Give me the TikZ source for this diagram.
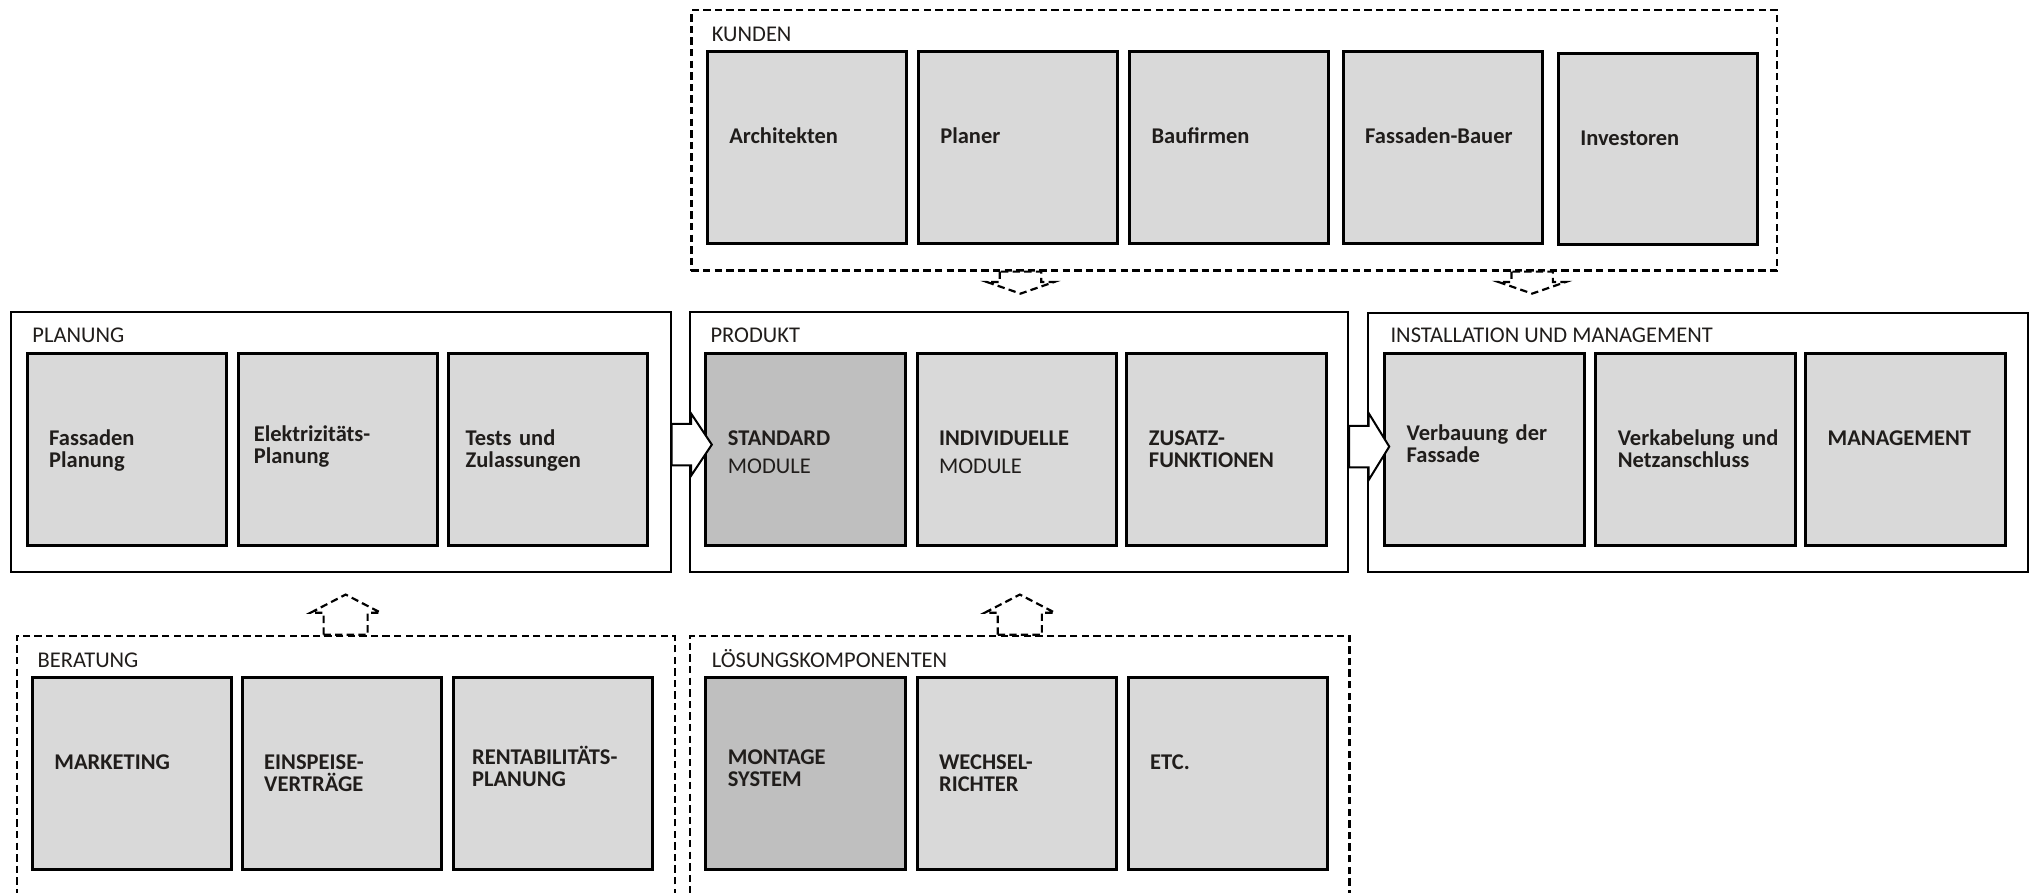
\documentclass[tikz,border=0pt]{standalone}
\usepackage{fontspec}
\setmainfont{Carlito}
\newlength{\pxu}
\setlength{\pxu}{0.012953cm}
\definecolor{cellgray}{HTML}{D9D9D9}
\definecolor{cellgraydark}{HTML}{BFBFBF}
\definecolor{ink}{HTML}{201D1B}
\tikzset{group/.style = {draw, line width=0.57pt, anchor=north west, inner sep=0pt}}
\tikzset{dgroup/.style = {group, line width=0.62pt, dash pattern=on 2.1pt off 1.2pt}}
\tikzset{cell/.style = {draw, fill=cellgray, line width=0.85pt, outer sep=0pt, anchor=north west, align=left, font=\bfseries, text width=120\pxu, inner xsep=17\pxu, inner ysep=0pt, text height=71\pxu, text depth=77\pxu}}
\tikzset{darkcell/.style = {cell, fill=cellgraydark}}
\tikzset{title/.style = {anchor=base west, inner sep=0pt}}
\tikzset{blockarrow/.style = {draw, fill=white, line width=0.57pt}}
\tikzset{dasharrow/.style = {draw, fill=white, line width=0.62pt, dash pattern=on 2.1pt off 1.2pt}}

\begin{document}
\fontsize{6.4pt}{6.2pt}\selectfont
\lineskiplimit=-5pt
\begin{tikzpicture}[x=0.012953cm, y=-0.012953cm, text=ink]
          \path[use as bounding box, fill=white] (0, 0) rectangle (1568, 689.4);
          \clip (0, 0) rectangle (1568, 689.4);

          \node[dgroup, minimum width=838\pxu, minimum height=201\pxu] (kunden) at (533, 7) {};
          \node[title] (kundenT) at (549, 32) {KUNDEN};
          \node[cell] (architekten) at (546, 40) {Architekten};
          \node[cell] (planer) at (709, 40) {Planer};
          \node[cell] (baufirmen) at (872, 40) {Baufirmen};
          \node[cell] (fassadenbauer) at (1037, 40) {Fassaden-Bauer};
          \node[cell] (investoren) at (1203, 41) {Investoren};

          \node[group, minimum width=509\pxu, minimum height=201\pxu] (planung) at (8, 240) {};
          \node[title] (planungT) at (24.5, 264.5) {PLANUNG};
          \node[cell] (fplanung) at (21, 273) {Fassaden\\Planung};
          \node[cell, inner xsep=12\pxu, text width=130\pxu, text height=68\pxu, text depth=80\pxu] (eplanung) at (184, 273) {Elektrizitäts-\\Planung};
          \node[cell, inner xsep=13.5\pxu, text width=127\pxu] (tests) at (346, 273) {Tests und\\Zulassungen};

          \node[group, minimum width=508\pxu, minimum height=201\pxu] (produkt) at (532, 240) {};
          \node[title] (produktT) at (548, 264.5) {PRODUKT};
          \node[darkcell] (standard) at (545, 273) {STANDARD\\[1.8pt]\textmd{MODULE}};
          \node[cell] (individuell) at (708, 273) {INDIVIDUELLE\\[1.8pt]\textmd{MODULE}};
          \node[cell] (zusatz) at (870, 273) {ZUSATZ-\\FUNKTIONEN};

          \node[group, minimum width=510\pxu, minimum height=200\pxu] (install) at (1055, 241) {};
          \node[title] (installT) at (1073, 264.5) {INSTALLATION UND MANAGEMENT};
          \node[cell, text height=67\pxu, text depth=81\pxu] (verbauung) at (1069, 273) {Verbauung der\\Fassade};
          \node[cell] (verkabelung) at (1232, 273) {Verkabelung~und\\Netzanschluss};
          \node[cell] (management) at (1394, 273) {MANAGEMENT};

          \node[dgroup, minimum width=508\pxu, minimum height=230\pxu] (beratung) at (12, 490) {};
          \node[title] (beratungT) at (28.5, 515) {BERATUNG};
          \node[cell] (marketing) at (25, 523) {MARKETING};
          \node[cell] (einspeise) at (187, 523) {EINSPEISE-\\VERTRÄGE};
          \node[cell, inner xsep=14.5\pxu, text width=125\pxu, text height=67.5\pxu, text depth=80.5\pxu] (rentabilitaet) at (350, 523) {RENTABILITÄTS-\\PLANUNG};

          \node[dgroup, minimum width=509\pxu, minimum height=230\pxu] (loesung) at (532, 490) {};
          \node[title] (loesungT) at (549, 515) {LÖSUNGSKOMPONENTEN};
          \node[darkcell, text height=67\pxu, text depth=81\pxu] (montage) at (545, 523) {MONTAGE\\SYSTEM};
          \node[cell] (wechsel) at (708, 523) {WECHSEL-\\RICHTER};
          \node[cell] (etc) at (871, 523) {ETC.};

          \draw[blockarrow] (planung.east) ++(0, -14) -- ++(15, 0) -- ++(0, -8) -- ++(16, 24) -- ++(-16, 24) -- ++(0, -8) -- ++(-15, 0) -- cycle;
          \draw[blockarrow] (produkt.east) ++(0, -12.5) -- ++(15, 0) -- ++(0, -10) -- ++(16, 26) -- ++(-16, 26) -- ++(0, -10) -- ++(-15, 0) -- cycle;

          \draw[dasharrow] ([xshift=-165\pxu]kunden.south) ++(-16, 0) -- ++(0, 8) -- ++(-10, 0) -- ++(26, 9) -- ++(26, -9) -- ++(-10, 0) -- ++(0, -8) -- cycle;
          \draw[dasharrow] ([xshift=230\pxu]kunden.south) ++(-16, 0) -- ++(0, 8) -- ++(-10, 0) -- ++(26, 9) -- ++(26, -9) -- ++(-10, 0) -- ++(0, -8) -- cycle;
          \draw[dasharrow] (beratung.north) ++(-17, 0) -- ++(0, -17) -- ++(-10, 0) -- ++(27, -14) -- ++(27, 14) -- ++(-10, 0) -- ++(0, 17) -- cycle;
          \draw[dasharrow] (loesung.north) ++(-17, 0) -- ++(0, -17) -- ++(-10, 0) -- ++(27, -14) -- ++(27, 14) -- ++(-10, 0) -- ++(0, 17) -- cycle;
        \end{tikzpicture}
\end{document}
